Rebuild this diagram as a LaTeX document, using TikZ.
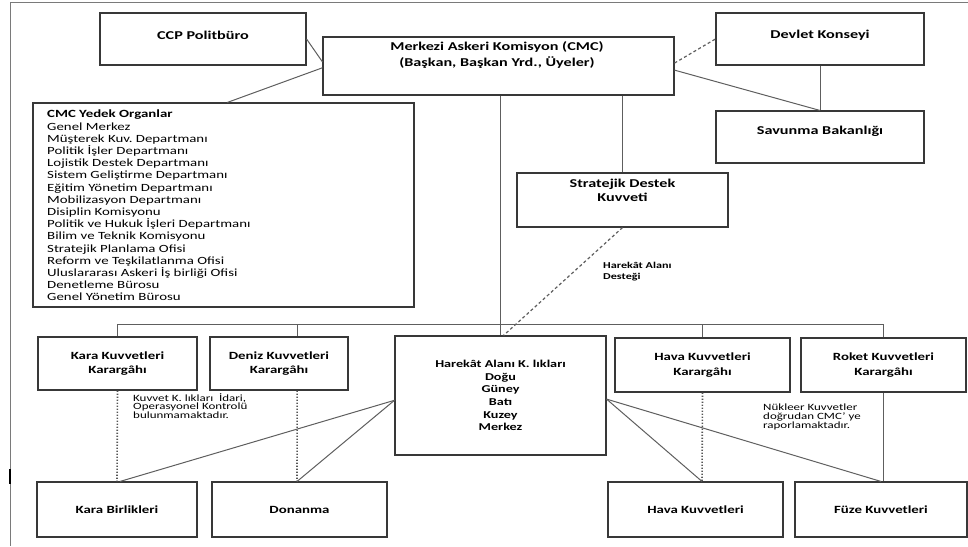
\documentclass[tikz,border=0pt]{standalone}
\usepackage{fontspec}
\setmainfont{Carlito}[FakeStretch=1.35]
\usetikzlibrary{calc}
\definecolor{lineC}{HTML}{5E5E5E}
\definecolor{boxC}{HTML}{383838}
\definecolor{frameC}{HTML}{7A7A7A}
\definecolor{dotC}{HTML}{555555}
\begin{document}
\begin{tikzpicture}[x=1pt,y=-1pt,
  box/.style={draw=boxC, line width=1.1pt, fill=white, inner sep=0pt, align=center,
    font=\bfseries\fontsize{11}{14.5}\selectfont},
  title/.style={font=\bfseries\fontsize{12}{14.5}\selectfont, align=center, inner sep=0pt},
  conn/.style={draw=lineC, line width=1pt},
  dashc/.style={draw=lineC, line width=1.2pt, dash pattern=on 3pt off 2.5pt},
  dotc/.style={draw=dotC, line width=1.6pt, dash pattern=on 1.4pt off 1.6pt},
  small/.style={font=\fontsize{9.6}{8.9}\selectfont, align=left, inner sep=0pt},
  smallb/.style={font=\bfseries\fontsize{9}{11}\selectfont, align=left, inner sep=0pt},
  listtext/.style={font=\fontsize{11}{12.2}\selectfont, align=left, inner sep=0pt}
]
\useasboundingbox (0,0) rectangle (968,546);
% outer frame
\draw[frameC, line width=1pt] (968,2) -- (10,2) -- (10,546);
\draw[black, line width=2pt] (10,469) -- (10,484);

% boxes
\node[box, minimum width=206pt, minimum height=52pt] (ccp) at (203,39) {};
\node[title] (ccpT) at (203,35) {CCP Politbüro};
\node[box, minimum width=351pt, minimum height=58pt] (cmc) at (498.5,66) {};
\node[title, font=\bfseries\fontsize{12}{15.5}\selectfont] (cmcT) at (497,55) {Merkezi Askeri Komisyon (CMC)\\(Başkan, Başkan Yrd., Üyeler)};
\node[box, minimum width=208pt, minimum height=52pt] (devlet) at (820,39) {};
\node[title] (devletT) at (820,35) {Devlet Konseyi};
\node[box, minimum width=208pt, minimum height=52pt] (savunma) at (820,137) {};
\node[title] (savunmaT) at (820,131) {Savunma Bakanlığı};
\node[box, minimum width=381pt, minimum height=204pt] (yedek) at (223.5,205) {};
\node[listtext, anchor=north west] (yedekT) at (47,110) {\textbf{CMC Yedek Organlar}\\
Genel Merkez\\
Müşterek Kuv.\ Departmanı\\
Politik İşler Departmanı\\
Lojistik Destek Departmanı\\
Sistem Geliştirme Departmanı\\
Eğitim Yönetim Departmanı\\
Mobilizasyon Departmanı\\
Disiplin Komisyonu\\
Politik ve Hukuk İşleri Departmanı\\
Bilim ve Teknik Komisyonu\\
Stratejik Planlama Ofisi\\
Reform ve Teşkilatlanma Ofisi\\
Uluslararası Askeri İş birliği Ofisi\\
Denetleme Bürosu\\
Genel Yönetim Bürosu};
\node[box, minimum width=211pt, minimum height=54pt] (strat) at (622.5,200) {};
\node[title, font=\bfseries\fontsize{12}{14}\selectfont] (stratT) at (622.5,190) {Stratejik Destek\\Kuvveti};
\node[box, minimum width=211pt, minimum height=119pt, font=\bfseries\fontsize{10.5}{12.6}\selectfont] (harekat) at (500.5,395.5) {Harekât Alanı K.\ lıkları\\Doğu\\Güney\\Batı\\Kuzey\\Merkez};
\node[box, minimum width=159pt, minimum height=53pt] (karakk) at (117.5,363.5) {Kara Kuvvetleri\\Karargâhı};
\node[box, minimum width=138pt, minimum height=53pt] (deniz) at (279,363.5) {Deniz Kuvvetleri\\Karargâhı};
\node[box, minimum width=175pt, minimum height=54pt] (havakk) at (702.5,365) {Hava Kuvvetleri\\Karargâhı};
\node[box, minimum width=165pt, minimum height=54pt] (roket) at (883.5,365) {Roket Kuvvetleri\\Karargâhı};
\node[box, minimum width=160pt, minimum height=55pt] (karab) at (117,509.5) {Kara Birlikleri};
\node[box, minimum width=175pt, minimum height=55pt] (donanma) at (299.5,509.5) {Donanma};
\node[box, minimum width=175pt, minimum height=55pt] (havab) at (695.5,509.5) {Hava Kuvvetleri};
\node[box, minimum width=172pt, minimum height=55pt] (fuze) at (881,509.5) {Füze Kuvvetleri};

% notes
\node[smallb, anchor=north west] (destekT) at (603,262) {Harekât Alanı\\Desteği};
\node[small, anchor=north west] (kuvvetT) at (133,393) {Kuvvet K.\ lıkları \ İdari,\\Operasyonel Kontrolü\\bulunmamaktadır.};
\node[small, anchor=north west] (nukleerT) at (763,404) {Nükleer Kuvvetler\\doğrudan CMC’ ye\\raporlamaktadır.};

% top connectors
\draw[conn] (ccp.east) -- ($(cmc.north west)!0.43!(cmc.south west)$);
\draw[conn] ($(cmc.north west)!0.53!(cmc.south west)$) -- ($(yedek.north west)!0.51!(yedek.north east)$);
\draw[dashc] ($(cmc.north east)!0.45!(cmc.south east)$) -- (devlet.west);
\draw[conn] ($(cmc.north east)!0.57!(cmc.south east)$) -- (savunma.north);
\draw[conn] (devlet.south) -- (savunma.north);
\draw[conn] (harekat.north |- cmc.south) -- (harekat.north);
\draw[conn] (strat.north |- cmc.south) -- (strat.north);
\draw[dashc] (strat.south) -- ([xshift=3pt]harekat.north);

% bus
\coordinate (bus) at (500,324);
\coordinate (denizTop) at ($(deniz.north west)!0.63!(deniz.north east)$);
\draw[conn] (karakk.north) |- (roket.north |- bus) -- (roket.north);
\draw[conn] (denizTop |- bus) -- (denizTop);
\draw[conn] (havakk.north |- bus) -- (havakk.north);

% dotted control lines
\draw[dotc] (karakk.south) -- (karab.north);
\draw[dotc] ($(deniz.south west)!0.63!(deniz.south east)$) -- ($(donanma.north west)!0.486!(donanma.north east)$);
\draw[dotc] (havakk.south) -- ($(havab.north west)!0.537!(havab.north east)$);
\draw[conn, line width=1.6pt] (roket.south) -- (roket.south |- fuze.north);

% operational lines
\coordinate (hL) at ($(harekat.north west)!0.54!(harekat.south west)$);
\coordinate (hR) at ($(harekat.north east)!0.53!(harekat.south east)$);
\draw[conn] (hL) -- ([xshift=3pt]karab.north);
\draw[conn] (hL) -- ($(donanma.north west)!0.486!(donanma.north east)$);
\draw[conn] (hR) -- ($(havab.north west)!0.537!(havab.north east)$);
\draw[conn] (hR) -- (fuze.north);
\end{tikzpicture}
\end{document}
